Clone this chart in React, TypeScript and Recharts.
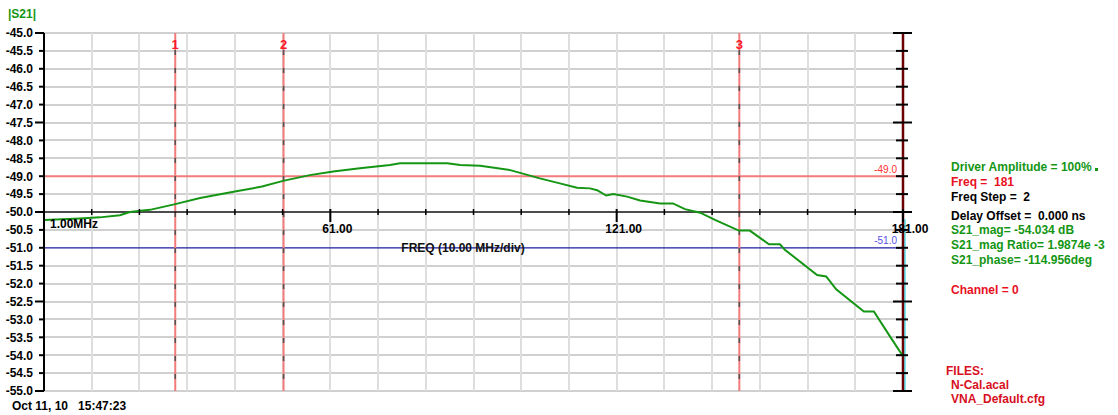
import React from 'react';
import { LineChart, Line, XAxis, YAxis, ReferenceLine, ReferenceDot } from 'recharts';

// |S21| trace, frequency in MHz, magnitude in dB
const freqs = [
  1, 8.5, 12.7, 16.9, 19, 21.7, 23.2, 28.5, 33.7, 41, 46.7, 51.1, 56.7, 61.6, 67.2, 73.5,
  75.6, 85.5, 88.2, 92.4, 98.7, 104.9, 109.1, 112.7, 115.4, 116.9, 118.8, 120.3, 123.2,
  125.9, 130.1, 132.8, 135.3, 138.5, 141.6, 146.6, 148.9, 152.9, 155.2, 156.3, 163,
  164.9, 167, 172.8, 174.9, 178.3, 181,
];
const s21Mag = [
  -50.22, -50.18, -50.15, -50.09, -50.0, -49.96, -49.94, -49.78, -49.61, -49.43, -49.29,
  -49.13, -48.97, -48.87, -48.78, -48.69, -48.64, -48.64, -48.69, -48.71, -48.83, -49.06,
  -49.2, -49.32, -49.34, -49.39, -49.54, -49.5, -49.57, -49.68, -49.76, -49.76, -49.92,
  -50.02, -50.22, -50.52, -50.52, -50.9, -50.9, -51.06, -51.76, -51.8, -52.16, -52.78,
  -52.78, -53.48, -54.03,
];

const freqGrid = [1, 11, 21, 31, 41, 51, 61, 71, 81, 91, 101, 111, 121, 131, 141, 151, 161, 171, 181];
const freqMajor = [61, 121, 181];
const freqMajorLabels = ['61.00', '121.00', '181.00'];
const magTicks = [
  -55, -54.5, -54, -53.5, -53, -52.5, -52, -51.5, -51, -50.5, -50, -49.5, -49, -48.5, -48,
  -47.5, -47, -46.5, -46, -45.5, -45,
];
const markerFreqs = [28.5, 51.2, 146.7];
const markerNames = ['1', '2', '3'];
const limitLevels = [-49, -51];
const limitLabels = ['-49.0', '-51.0'];
const FREQ_AXIS_LEVEL = -50;

const data = freqs.map((f, i) => ({ f, mag: s21Mag[i] }));

const FONT = '"Liberation Sans", Arial, Helvetica, sans-serif';
const GREEN = '#149614';
const RED = '#e8101e';
const GRID = '#dedede';
const GRID_ROW = '#d0d0d0';
const F_MIN = 1;
const F_MAX = 181;

const isMajor = (v: number) => Math.abs(v / 2.5 - Math.round(v / 2.5)) < 1e-6;

// horizontal grid rows that are not already covered by the limit lines / frequency axis
const gridRows = magTicks.filter((m) => m !== FREQ_AXIS_LEVEL && !limitLevels.includes(m));

function LeftTick(props: any) {
  const { x, y, payload } = props;
  const len = isMajor(payload.value) ? 9 : 5;
  return (
    <g>
      <line x1={x - len} x2={x} y1={y} y2={y} stroke="#000" strokeWidth={2} />
      <text
        x={x - 11}
        y={y}
        dy="0.36em"
        textAnchor="end"
        fontFamily={FONT}
        fontSize={12}
        fontWeight="bold"
        fill="#000"
      >
        {payload.value.toFixed(1)}
      </text>
    </g>
  );
}

// grid lines snapped to whole pixels so they stay crisp
const gridShape = (p: any) => (
  <line
    x1={Math.round(p.x1)}
    x2={Math.round(p.x2)}
    y1={Math.round(p.y1)}
    y2={Math.round(p.y2)}
    stroke={GRID}
    strokeWidth={2}
  />
);
const rowShape = (p: any) => (
  <line
    x1={p.x1}
    x2={p.x2}
    y1={Math.round(p.y1)}
    y2={Math.round(p.y2)}
    stroke={GRID_ROW}
    strokeWidth={2}
  />
);

const textStyle: React.CSSProperties = {
  position: 'absolute',
  fontFamily: FONT,
  fontSize: 12,
  fontWeight: 'bold',
  lineHeight: '14px',
  whiteSpace: 'pre',
};

export default function App() {
  return (
    <div style={{ position: 'absolute', left: 0, top: 0, width: 1118, height: 415, background: '#fff' }}>
      <LineChart
        width={1118}
        height={415}
        data={data}
        margin={{ top: 33, right: 215, bottom: 24, left: 0 }}
      >
        <XAxis
          dataKey="f"
          type="number"
          domain={[F_MIN, F_MAX]}
          ticks={freqGrid}
          interval={0}
          height={0}
          axisLine={false}
          tickLine={false}
          tick={false}
        />
        <YAxis
          type="number"
          domain={[-55, -45]}
          ticks={magTicks}
          interval={0}
          width={44}
          tickSize={0}
          tickMargin={0}
          tickLine={false}
          axisLine={{ stroke: '#000', strokeWidth: 2 }}
          tick={(p: any) => <LeftTick {...p} />}
        />

        {/* grid */}
        {gridRows.map((m) => (
          <ReferenceLine key={'gh' + m} y={m} shape={rowShape} />
        ))}
        {freqGrid.map((f) => (
          <ReferenceLine key={'gv' + f} x={f} shape={gridShape} />
        ))}

        {/* limit lines */}
        {limitLevels.map((lv, i) => (
          <ReferenceLine
            key={'lim' + lv}
            y={lv}
            stroke={i === 0 ? '#f27b7b' : '#1c1ca0'}
            strokeWidth={i === 0 ? 2 : 1.2}
            label={(p: any) => (
              <text
                x={p.viewBox.x + p.viewBox.width - 6}
                y={p.viewBox.y - 3.5}
                textAnchor="end"
                fontFamily={FONT}
                fontSize={10}
                fill={i === 0 ? '#ff3030' : '#5a50e6'}
              >
                {limitLabels[i]}
              </text>
            )}
          />
        ))}

        {/* markers: red line with grey dashes, number on top */}
        {markerFreqs.map((f, i) => (
          <ReferenceLine
            key={'mk' + f}
            x={f}
            shape={(p: any) => {
              const top = Math.min(p.y1, p.y2);
              const bottom = Math.max(p.y1, p.y2);
              return (
                <g>
                  <line x1={p.x1} x2={p.x1} y1={top} y2={bottom} stroke="#f27b7b" strokeWidth={2} />
                  <line
                    x1={p.x1}
                    x2={p.x1}
                    y1={top + 17}
                    y2={bottom}
                    stroke="#555"
                    strokeWidth={1.6}
                    strokeDasharray="5 13"
                  />
                  <text
                    x={p.x1}
                    y={top + 16}
                    textAnchor="middle"
                    fontFamily={FONT}
                    fontSize={13}
                    fontWeight="bold"
                    fill="#ff1a2a"
                  >
                    {markerNames[i]}
                  </text>
                </g>
              );
            }}
          />
        ))}

        {/* frequency axis drawn across the -50 dB level */}
        <ReferenceLine y={FREQ_AXIS_LEVEL} stroke="#111" strokeWidth={1.5} />
        {freqGrid.map((f) => (
          <ReferenceDot
            key={'ft' + f}
            x={f}
            y={FREQ_AXIS_LEVEL}
            r={0}
            shape={(p: any) =>
              freqMajor.includes(f) ? (
                <line x1={p.cx} x2={p.cx} y1={p.cy - 3} y2={p.cy + 10} stroke="#000" strokeWidth={2} />
              ) : (
                <line x1={p.cx} x2={p.cx} y1={p.cy - 3} y2={p.cy + 3} stroke="#000" strokeWidth={1.5} />
              )
            }
          />
        ))}

        {/* sweep cursor at the end frequency */}
        <ReferenceLine
          segment={[
            { x: F_MAX, y: -50.2 },
            { x: F_MAX, y: -55 },
          ]}
          shape={(p: any) => (
            <line x1={p.x1 + 2} x2={p.x2 + 2} y1={p.y1} y2={p.y2} stroke="#22e0f0" strokeWidth={1.2} />
          )}
        />

        {/* right-hand axis with crossing ticks */}
        <ReferenceLine x={F_MAX} stroke="#6a0000" strokeWidth={2.5} />
        {magTicks.map((m) => (
          <ReferenceDot
            key={'rt' + m}
            x={F_MAX}
            y={m}
            r={0}
            shape={(p: any) => (
              <line
                x1={p.cx - (isMajor(m) ? 10 : 7)}
                x2={p.cx + (isMajor(m) ? 9 : 5)}
                y1={p.cy}
                y2={p.cy}
                stroke="#000"
                strokeWidth={2}
              />
            )}
          />
        ))}

        {freqMajor.map((f, i) => (
          <ReferenceDot
            key={'fl' + f}
            x={f}
            y={FREQ_AXIS_LEVEL}
            r={0}
            shape={(p: any) => (
              <text
                x={p.cx + 7}
                y={p.cy + 21}
                textAnchor="middle"
                fontFamily={FONT}
                fontSize={12}
                fontWeight="bold"
                fill="#000"
              >
                {freqMajorLabels[i]}
              </text>
            )}
          />
        ))}
        <ReferenceDot
          x={F_MIN}
          y={FREQ_AXIS_LEVEL}
          r={0}
          shape={(p: any) => (
            <text x={p.cx + 6} y={p.cy + 16} fontFamily={FONT} fontSize={12} fontWeight="bold" fill="#000">
              1.00MHz
            </text>
          )}
        />

        <Line
          dataKey="mag"
          type="linear"
          stroke={GREEN}
          strokeWidth={2}
          dot={false}
          isAnimationActive={false}
        />
      </LineChart>

      <div style={{ ...textStyle, left: 8, top: 7, color: GREEN }}>|S21|</div>
      <div style={{ ...textStyle, left: 363, top: 241, width: 200, textAlign: 'center', color: '#111' }}>
        FREQ (10.00 MHz/div)
      </div>
      <div style={{ ...textStyle, left: 12, top: 399, color: '#000' }}>{'Oct 11, 10   15:47:23'}</div>

      <div style={{ ...textStyle, left: 951, top: 160, color: GREEN }}>
        {'Driver Amplitude = 100%'}
        <span style={{ display: 'inline-block', width: 3, height: 3, background: GREEN, marginLeft: 3 }} />
      </div>
      <div style={{ ...textStyle, left: 951, top: 175, color: RED }}>{'Freq =  181'}</div>
      <div style={{ ...textStyle, left: 951, top: 190, color: '#000' }}>{'Freq Step =  2'}</div>
      <div style={{ ...textStyle, left: 951, top: 209, color: '#000' }}>{'Delay Offset =  0.000 ns'}</div>
      <div style={{ ...textStyle, left: 951, top: 223, color: GREEN }}>{'S21_mag= -54.034 dB'}</div>
      <div style={{ ...textStyle, left: 951, top: 238, color: GREEN }}>{'S21_mag Ratio= 1.9874e -3'}</div>
      <div style={{ ...textStyle, left: 951, top: 253, color: GREEN }}>{'S21_phase= -114.956deg'}</div>
      <div style={{ ...textStyle, left: 951, top: 283, color: RED }}>{'Channel = 0'}</div>
      <div style={{ ...textStyle, left: 946, top: 364, color: '#d8101e' }}>FILES:</div>
      <div style={{ ...textStyle, left: 951, top: 378, color: '#d8101e' }}>N-Cal.acal</div>
      <div style={{ ...textStyle, left: 951, top: 392, color: '#d8101e' }}>VNA_Default.cfg</div>
    </div>
  );
}
